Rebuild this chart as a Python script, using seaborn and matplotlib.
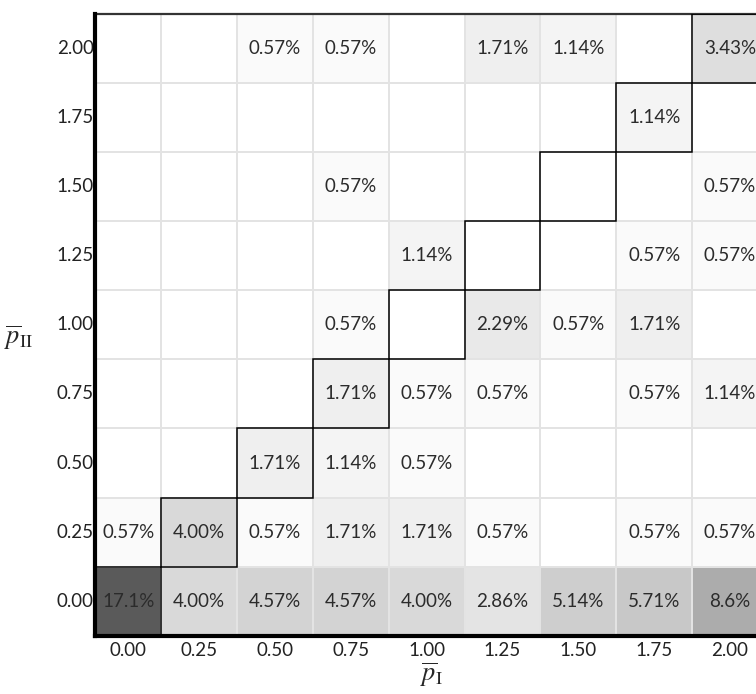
import numpy as np
import pandas as pd
import seaborn as sns
import matplotlib.pyplot as plt
from matplotlib.colors import LinearSegmentedColormap
from matplotlib.patches import Rectangle


OUTPUT_PATH = "out.png"

X_LEVELS = ["0.00", "0.25", "0.50", "0.75", "1.00", "1.25", "1.50", "1.75", "2.00"]
Y_LEVELS = ["2.00", "1.75", "1.50", "1.25", "1.00", "0.75", "0.50", "0.25", "0.00"]

# share of cases (%) per (p_I, p_II) cell, one list per p_II row (top to bottom)
ROW_200 = [0, 0, 0.57, 0.57, 0, 1.71, 1.14, 0, 3.43]
ROW_175 = [0, 0, 0, 0, 0, 0, 0, 1.14, 0]
ROW_150 = [0, 0, 0, 0.57, 0, 0, 0, 0, 0.57]
ROW_125 = [0, 0, 0, 0, 1.14, 0, 0, 0.57, 0.57]
ROW_100 = [0, 0, 0, 0.57, 0, 2.29, 0.57, 1.71, 0]
ROW_075 = [0, 0, 0, 1.71, 0.57, 0.57, 0, 0.57, 1.14]
ROW_050 = [0, 0, 1.71, 1.14, 0.57, 0, 0, 0, 0]
ROW_025 = [0.57, 4.00, 0.57, 1.71, 1.71, 0.57, 0, 0.57, 0.57]
ROW_000 = [17.1, 4.00, 4.57, 4.57, 4.00, 2.86, 5.14, 5.71, 8.6]

X_START = 0.13  # first column is partly hidden behind the axis
FONT_SIZE = 13.5


def fmt_pct(v):
    if v == 0:
        return ""
    if round(v, 1) == v and v != int(v):
        return f"{v:.1f}%"
    return f"{v:.2f}%"


def main() -> None:
    rows = [ROW_200, ROW_175, ROW_150, ROW_125, ROW_100, ROW_075, ROW_050, ROW_025, ROW_000]
    df = pd.DataFrame(rows, index=Y_LEVELS, columns=X_LEVELS)
    labels = df.map(fmt_pct).to_numpy()

    sns.set_theme(style="white")
    plt.rcParams["font.family"] = ["Lato", "DejaVu Sans"]
    plt.rcParams["mathtext.fontset"] = "stix"

    W, H = 756, 694
    fig = plt.figure(figsize=(W / 100, H / 100), dpi=100)
    left, right, top, bottom = 95.3, 768.0, 13.5, 636.0
    ax = fig.add_axes([left / W, 1 - bottom / H, (right - left) / W, (bottom - top) / H])

    cmap = LinearSegmentedColormap.from_list("grey_ramp", ["#ffffff", "#5a5a5a"])
    sns.heatmap(
        df,
        ax=ax,
        cmap=cmap,
        vmin=0,
        vmax=df.to_numpy().max(),
        annot=labels,
        fmt="",
        cbar=False,
        linewidths=1.2,
        linecolor="#e3e3e3",
        annot_kws={"color": "#2b2b2b", "fontsize": FONT_SIZE},
    )

    # outline the diagonal p_I == p_II
    n = len(X_LEVELS)
    for c, xl in enumerate(X_LEVELS):
        r = Y_LEVELS.index(xl)
        ax.add_patch(Rectangle((c, r), 1, 1, fill=False, ec="black", lw=1.1, zorder=3))

    ax.set_xlim(X_START, n)
    first_mid = (X_START + 1) / 2
    ax.set_xticks([first_mid] + [i + 0.5 for i in range(1, n)])
    ax.set_xticklabels(X_LEVELS, rotation=0)
    ax.set_yticklabels(Y_LEVELS, rotation=0)
    for t in ax.texts:
        x, y = t.get_position()
        if x == 0.5:
            t.set_x(first_mid)

    ax.tick_params(axis="x", length=0, pad=4, labelsize=FONT_SIZE, colors="#222222")
    ax.tick_params(axis="y", length=0, pad=1, labelsize=FONT_SIZE, colors="#222222")

    for side in ["left", "bottom"]:
        ax.spines[side].set_visible(True)
        ax.spines[side].set_color("black")
        ax.spines[side].set_linewidth(3.0)
        ax.spines[side].set_zorder(5)
    ax.spines["top"].set_visible(True)
    ax.spines["top"].set_color("#333333")
    ax.spines["top"].set_linewidth(1.6)
    ax.spines["right"].set_visible(False)

    ax.set_xlabel(r"$\overline{p}_{\mathrm{I}}$", fontsize=19, va="center")
    ax.xaxis.set_label_coords(0.5, -0.062)
    ax.set_ylabel(r"$\overline{p}_{\mathrm{II}}$", fontsize=19, rotation=0, va="center")
    ax.yaxis.set_label_coords(-0.113, 0.48)

    fig.savefig(OUTPUT_PATH, dpi=100)
    plt.close(fig)


if __name__ == "__main__":
    main()
